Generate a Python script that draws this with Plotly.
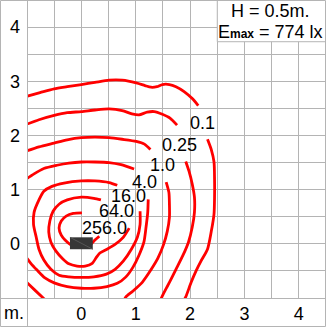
import plotly.graph_objects as go

# ---------------- data (metres) ----------------
# Isolux lines, lux levels and their traced segments
iso_0_1_top_x = [-1.05, -0.76, -0.50, -0.26, 0.0, 0.25, 0.51, 0.75, 1.01, 1.17, 1.28, 1.39, 1.49, 1.62, 1.74, 1.89, 2.04, 2.15]
iso_0_1_top_y = [2.71, 2.79, 2.86, 2.90, 2.94, 2.98, 3.02, 3.02, 2.97, 2.92, 2.89, 2.90, 2.94, 2.94, 2.90, 2.81, 2.68, 2.55]
iso_0_1_side_x = [2.32, 2.39, 2.44, 2.45, 2.45, 2.44, 2.39, 2.32, 2.20, 2.11, 2.02, 1.92, 1.88]
iso_0_1_side_y = [1.93, 1.74, 1.51, 1.19, 0.86, 0.55, 0.23, -0.10, -0.32, -0.50, -0.71, -0.98, -1.05]

iso_0_25_top_x = [-1.05, -0.78, -0.50, -0.26, 0.0, 0.25, 0.51, 0.75, 0.93, 1.06, 1.21, 1.34, 1.49, 1.63, 1.76]
iso_0_25_top_y = [2.19, 2.29, 2.37, 2.42, 2.44, 2.47, 2.49, 2.46, 2.40, 2.38, 2.43, 2.44, 2.39, 2.32, 2.19]
iso_0_25_side_x = [1.92, 1.98, 2.04, 2.08, 2.08, 2.04, 1.97, 1.87, 1.74, 1.62, 1.49, 1.45]
iso_0_25_side_y = [1.52, 1.34, 1.10, 0.86, 0.58, 0.31, 0.03, -0.21, -0.47, -0.71, -0.96, -1.05]

iso_1_top_x = [-1.05, -0.78, -0.50, -0.26, 0.0, 0.25, 0.51, 0.75, 1.01, 1.16, 1.27]
iso_1_top_y = [1.70, 1.79, 1.86, 1.92, 1.96, 1.97, 1.96, 1.93, 1.89, 1.84, 1.74]
iso_1_side_x = [1.56, 1.61, 1.62, 1.62, 1.58, 1.51, 1.41, 1.28, 1.12, 0.95, 0.82, 0.78]
iso_1_side_y = [1.14, 0.95, 0.73, 0.49, 0.23, -0.02, -0.26, -0.48, -0.71, -0.87, -0.98, -1.05]
iso_1_corner_x = [-1.05, -0.86, -0.65]
iso_1_corner_y = [-0.67, -0.85, -1.05]

iso_4_top_x = [-1.05, -0.87, -0.69, -0.45, -0.23, 0.0, 0.25, 0.51, 0.73, 0.97]
iso_4_top_y = [1.17, 1.29, 1.39, 1.45, 1.49, 1.51, 1.51, 1.50, 1.46, 1.38]
iso_4_side_x = [1.23, 1.22, 1.19, 1.15, 1.06, 0.95, 0.82, 0.66, 0.47, 0.23, 0.0, -0.26, -0.50, -0.67, -0.82, -0.93, -1.05]
iso_4_side_y = [0.82, 0.57, 0.31, 0.03, -0.21, -0.43, -0.61, -0.73, -0.79, -0.82, -0.82, -0.79, -0.72, -0.63, -0.48, -0.36, -0.20]

iso_16_x = [1.08, 1.08, 1.03, 0.92, 0.77, 0.62, 0.46, 0.23, 0.0, -0.23, -0.41, -0.56, -0.69, -0.78, -0.83, -0.88,
            -0.87, -0.78, -0.69, -0.54, -0.32, 0.0, 0.25, 0.51, 0.66]
iso_16_y = [0.60, 0.36, 0.12, -0.10, -0.32, -0.47, -0.56, -0.61, -0.62, -0.61, -0.58, -0.47, -0.30, -0.10, 0.12, 0.36,
            0.58, 0.81, 0.97, 1.06, 1.12, 1.16, 1.16, 1.13, 1.08]

iso_64_x = [0.88, 0.77, 0.62, 0.47, 0.34, 0.27, 0.20, 0.07, -0.08, -0.23, -0.34, -0.47, -0.56, -0.60, -0.58, -0.52,
            -0.41, -0.26, 0.0, 0.23, 0.36]
iso_64_y = [0.29, 0.12, -0.01, -0.10, -0.17, -0.26, -0.36, -0.41, -0.41, -0.37, -0.28, -0.13, 0.03, 0.22, 0.42, 0.60,
            0.73, 0.81, 0.86, 0.84, 0.81]

iso_256_x = [0.01, -0.15, -0.28, -0.37, -0.41, -0.37, -0.30, -0.19, 0.0, 0.16, 0.25, 0.33]
iso_256_y = [0.57, 0.56, 0.51, 0.42, 0.29, 0.16, 0.07, -0.02, -0.06, -0.02, 0.07, 0.14]

# Contour labels (lux) and where they sit
label_text = ["0.1", "0.25", "1.0", "4.0", "16.0", "64.0", "256.0"]
label_x = [2.22, 1.81, 1.50, 1.16, 0.87, 0.64, 0.42]
label_y = [2.23, 1.83, 1.45, 1.15, 0.88, 0.60, 0.30]

# Luminaire footprint (m)
lum_x = [-0.21, 0.21]
lum_y = [-0.10, 0.12]

# Axes
x_range = [-1.0, 4.5]
y_range = [-1.0, 4.5]
grid_vals = [-1.0, -0.5, 0.0, 0.5, 1.0, 1.5, 2.0, 2.5, 3.0, 3.5, 4.0, 4.5]
tick_labels = {0.0: "0", 1.0: "1", 2.0: "2", 3.0: "3", 4.0: "4"}
unit_label = "m."
info_line1 = "H = 0.5m."
info_line2 = "E<span style='font-size:12px'><b>max</b></span> = 774 lx"
info_box_x = [2.5, 4.5]
info_box_y = [3.73, 4.5]

# ---------------- styling ----------------
RED = "#ff0000"
GRID = "#b4b4b4"
FONT = "Liberation Sans, Arial, sans-serif"
W, H = 326, 327
ML, MB = 27, 29
PW, PH = W - ML, H - MB

segments = [
    (iso_0_1_top_x, iso_0_1_top_y), (iso_0_1_side_x, iso_0_1_side_y),
    (iso_0_25_top_x, iso_0_25_top_y), (iso_0_25_side_x, iso_0_25_side_y),
    (iso_1_top_x, iso_1_top_y), (iso_1_side_x, iso_1_side_y), (iso_1_corner_x, iso_1_corner_y),
    (iso_4_top_x, iso_4_top_y), (iso_4_side_x, iso_4_side_y),
    (iso_16_x, iso_16_y), (iso_64_x, iso_64_y), (iso_256_x, iso_256_y),
]

fig = go.Figure()
for xs, ys in segments:
    fig.add_trace(go.Scatter(
        x=xs, y=ys, mode="lines",
        line=dict(color=RED, width=2.8, shape="spline", smoothing=0.7),
        hoverinfo="skip", showlegend=False,
    ))

for t, lx, ly in zip(label_text, label_x, label_y):
    fig.add_annotation(x=lx, y=ly, text=t, showarrow=False, xanchor="center", yanchor="middle",
                       font=dict(family=FONT, size=18, color="black"))

ticktext = [tick_labels.get(v, "") for v in grid_vals]

fig.update_layout(
    width=W, height=H,
    margin=dict(l=ML, r=0, t=0, b=MB, pad=0),
    paper_bgcolor="white", plot_bgcolor="white",
    font=dict(family=FONT, size=18, color="black"),
    xaxis=dict(range=x_range, tickmode="array", tickvals=grid_vals, ticktext=ticktext,
               showgrid=True, gridcolor=GRID, gridwidth=1, zeroline=False, showline=False,
               ticks="", automargin=False, fixedrange=True, ticklabelstandoff=3),
    yaxis=dict(range=y_range, tickmode="array", tickvals=grid_vals, ticktext=ticktext,
               showgrid=True, gridcolor=GRID, gridwidth=1, zeroline=False, showline=False,
               ticks="", automargin=False, fixedrange=True, ticklabelstandoff=6),
)

# luminaire
fig.add_shape(type="rect", xref="x", yref="y", x0=lum_x[0], x1=lum_x[1], y0=lum_y[0], y1=lum_y[1],
              fillcolor="#363636", line=dict(width=0), layer="above")
fig.add_shape(type="line", xref="x", yref="y", x0=lum_x[0], x1=lum_x[1], y0=lum_y[1], y1=lum_y[0],
              line=dict(color="#555555", width=1), layer="above")

# info box
fig.add_shape(type="rect", xref="x", yref="y", x0=info_box_x[0], x1=info_box_x[1] + 0.1,
              y0=info_box_y[0], y1=info_box_y[1] + 0.1,
              fillcolor="white", line=dict(color=GRID, width=1), layer="above")
fig.add_annotation(x=sum(info_box_x) / 2 - 0.02, y=4.30, xref="x", yref="y", text=info_line1, showarrow=False,
                   xanchor="center", yanchor="middle", font=dict(family=FONT, size=18, color="black"))
fig.add_annotation(x=sum(info_box_x) / 2 - 0.02, y=3.905, xref="x", yref="y", text=info_line2, showarrow=False,
                   xanchor="center", yanchor="middle", font=dict(family=FONT, size=18, color="black"))

# frame lines (paper coords relative to plot area)
def px_x(p):
    return (p - ML) / PW

def px_y(p):
    return (PH - p) / PH

fig.add_shape(type="line", xref="paper", yref="paper", x0=px_x(27.5), x1=px_x(27.5), y0=px_y(0), y1=px_y(H),
              line=dict(color=GRID, width=1), layer="above")
fig.add_shape(type="line", xref="paper", yref="paper", x0=px_x(0), x1=px_x(W), y0=px_y(298.5), y1=px_y(298.5),
              line=dict(color=GRID, width=1), layer="above")
fig.add_shape(type="rect", xref="paper", yref="paper", x0=px_x(0.5), x1=px_x(325.5), y0=px_y(326.5), y1=px_y(0.5),
              line=dict(color=GRID, width=1), fillcolor="rgba(0,0,0,0)", layer="above")

fig.add_annotation(x=px_x(14), y=px_y(312.5), xref="paper", yref="paper", text=unit_label, showarrow=False,
                   xanchor="center", yanchor="middle", font=dict(family=FONT, size=18, color="black"))

fig.write_html("out.html", config={"displayModeBar": False})
